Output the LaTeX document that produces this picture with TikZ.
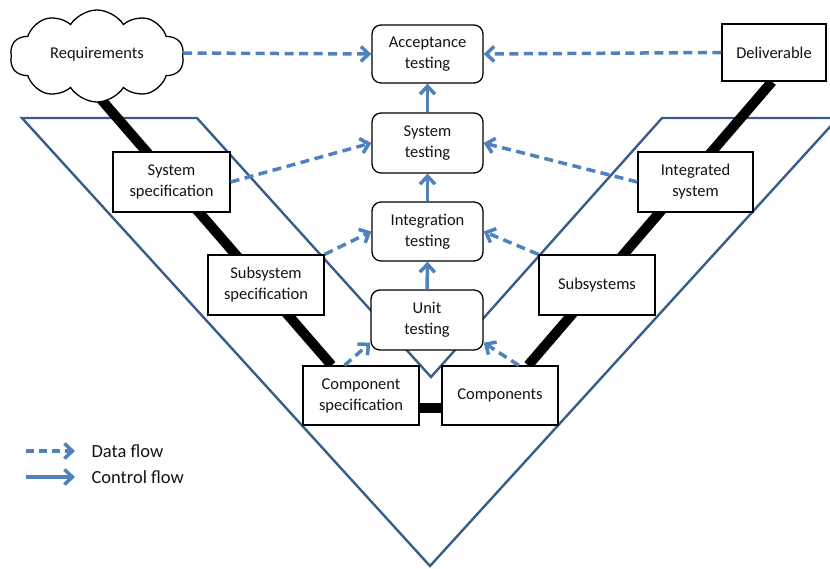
\documentclass[tikz,border=0pt]{standalone}
\usepackage{fontspec}
\setmainfont{Carlito}
\usetikzlibrary{shapes.symbols,arrows.meta,calc,backgrounds}
\definecolor{flowblue}{RGB}{79,129,189}
\definecolor{vblue}{RGB}{56,93,138}
\definecolor{ink}{RGB}{20,20,20}

\begin{document}
\begin{tikzpicture}[x=1pt,y=-1pt,
  every node/.style={font=\fontsize{16.5}{21}\selectfont, align=center, text=ink},
  box/.style={draw=black, line width=1.3pt, fill=white, inner sep=0pt},
  rbox/.style={box, rounded corners=9pt},
  data/.style={draw=flowblue, line width=3.5pt, dash pattern=on 9pt off 5.5pt,
    -{Straight Barb[length=8pt,width=15pt]}},
  ctrl/.style={draw=flowblue, line width=3.5pt,
    -{Straight Barb[length=8pt,width=15pt]}},
  spine/.style={draw=black, line width=10pt},
  vee/.style={draw=vblue, line width=2.4pt, line join=miter}
]
\useasboundingbox (0,0) rectangle (830,568);
\clip (0,0) rectangle (830,568);

% nodes
\node[box, cloud, cloud puffs=10, cloud puff arc=115, cloud ignores aspect,
  minimum width=174pt, minimum height=92pt] (req) at (97,56) {\raisebox{6pt}{Requirements}};
\node[rbox, minimum width=111pt, minimum height=58pt] (acc) at (427.5,54) {Acceptance\\testing};
\node[rbox, minimum width=111pt, minimum height=60pt] (sys) at (427.5,143) {System\\testing};
\node[rbox, minimum width=111pt, minimum height=59pt] (int) at (427.5,231.5) {Integration\\testing};
\node[rbox, minimum width=112pt, minimum height=60pt] (unit) at (427,320) {Unit\\testing};
\node[box, minimum width=104pt, minimum height=57pt] (deliv) at (774,52.5) {Deliverable};
\node[box, minimum width=117pt, minimum height=60pt] (sysspec) at (171.5,182) {System\\specification};
\node[box, minimum width=116pt, minimum height=60pt] (subspec) at (266,285) {Subsystem\\specification};
\node[box, minimum width=116pt, minimum height=59pt] (cspec) at (361,395.5) {Component\\specification};
\node[box, minimum width=116pt, minimum height=59pt] (comp) at (500,395.5) {Components};
\node[box, minimum width=116pt, minimum height=60pt] (subs) at (597,285) {Subsystems};
\node[box, minimum width=115pt, minimum height=60pt] (integ) at (695.5,182) {Integrated\\system};

% the V outline and the black spines sit behind the boxes
\begin{scope}[on background layer]
  \draw[vee] (22,118) -- (197,118) -- (431,377) -- (662,118) -- (838,118)
    -- (430,566) -- cycle;
  \draw[spine] ($(req.south)+(0,-8)$) -- ($(cspec.north west)!0.25!(cspec.north east)$);
  \draw[spine] ($(deliv.south)+(-2,0)$) -- ($(comp.north west)!0.74!(comp.north east)$);
  \draw[spine] ($(cspec.east)+(0,12)$) -- ($(comp.west)+(0,12)$);
\end{scope}

% control flow up the middle
\draw[ctrl] (unit.north) -- (int.south);
\draw[ctrl] (int.north) -- (sys.south);
\draw[ctrl] (sys.north) -- (acc.south);

% data flow into the test stages
\draw[data] ($(req.east)+(0,-3)$) -- (acc.west);
\draw[data] (deliv.west) -- (acc.east);
\draw[data] (sysspec.east) -- (sys.west);
\draw[data] (integ.west) -- (sys.east);
\draw[data] (subspec.north east) -- (int.west);
\draw[data] (subs.north west) -- (int.east);
\draw[data] ($(cspec.north west)!0.36!(cspec.north east)$) -- ($(unit.south west)+(0,-8)$);
\draw[data] ($(comp.north west)!0.66!(comp.north east)$) -- ($(unit.south east)+(0,-8)$);

% legend
\coordinate (l1a) at (26,451);
\coordinate (l1b) at (75,451);
\coordinate (l2a) at (26,477);
\coordinate (l2b) at (75,477);
\node[anchor=west, font=\fontsize{18.5}{22}\selectfont] (ldata) at (88,451) {Data flow};
\node[anchor=west, font=\fontsize{18.5}{22}\selectfont] (lctrl) at (88,477) {Control flow};
\draw[data, dash pattern=on 8pt off 5pt] (l1a) -- (l1b);
\draw[ctrl] (l2a) -- (l2b);
\end{tikzpicture}
\end{document}
